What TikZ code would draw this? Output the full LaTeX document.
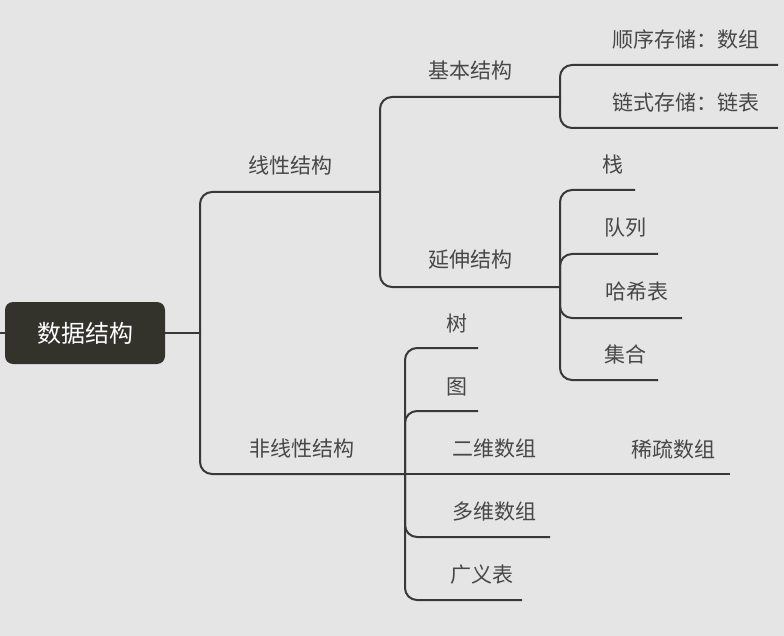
\documentclass[tikz,border=0pt]{standalone}
\usepackage{fontspec}
\newfontfamily\cjk{Noto Sans CJK SC}
\definecolor{rootc}{HTML}{33332C}
\begin{document}
\begin{tikzpicture}[x=1pt,y=-1pt,
  ln/.style={draw=black!78,line width=2pt,rounded corners=12pt},
  lbl/.style={font=\cjk\fontsize{21}{21}\selectfont,text=black!72,inner sep=0pt}]
\fill[black!10] (0,0) rectangle (784,636);
\useasboundingbox (0,0) rectangle (784,636);
\node[fill=rootc,rounded corners=8pt,minimum width=160pt,minimum height=62pt,text=white,font=\cjk\fontsize{24}{24}\selectfont] (root) at (85,333) {数据结构};
\coordinate (l0) at (0,333);
\draw[ln] (l0) -- (root.west);
\coordinate (j0) at (200,333);
\draw[ln] (root.east) -- (j0);
% level 1
\node[lbl] (lin) at (290,166) {线性结构};
\node[lbl] (nonlin) at (302,449) {非线性结构};
\coordinate (linE) at (380,192);
\coordinate (nonE) at (405,474);
\draw[ln] (j0) -- (200,192) -- (linE);
\draw[ln] (j0) -- (200,474) -- (nonE);
% linear children
\node[lbl] (basic) at (470,71) {基本结构};
\node[lbl] (ext) at (470,260) {延伸结构};
\coordinate (basicE) at (560,97);
\coordinate (extE) at (560,287);
\draw[ln] (linE) -- (380,97) -- (basicE);
\draw[ln] (linE) -- (380,287) -- (extE);
% basic children
\node[lbl] (seq) at (686,40) {顺序存储：数组};
\node[lbl] (lnk) at (686,103) {链式存储：链表};
\coordinate (seqE) at (778,65);
\coordinate (lnkE) at (778,128);
\draw[ln] (basicE) -- (560,65) -- (seqE);
\draw[ln] (basicE) -- (560,128) -- (lnkE);
% ext children
\node[lbl] (stack) at (613,165) {栈};
\node[lbl] (queue) at (625,228) {队列};
\node[lbl] (hash) at (637,292) {哈希表};
\node[lbl] (set) at (625,354) {集合};
\coordinate (stackE) at (635,190);
\coordinate (queueE) at (658,254);
\coordinate (hashE) at (682,318);
\coordinate (setE) at (658,380);
\draw[ln] (extE) -- (560,190) -- (stackE);
\draw[ln] (extE) -- (560,254) -- (queueE);
\draw[ln] (extE) -- (560,318) -- (hashE);
\draw[ln] (extE) -- (560,380) -- (setE);
% nonlinear children
\node[lbl] (tree) at (457,324) {树};
\node[lbl] (graph) at (457,387) {图};
\node[lbl] (arr2) at (494,449) {二维数组};
\node[lbl] (sparse) at (673,449) {稀疏数组};
\node[lbl] (arrn) at (494,512) {多维数组};
\node[lbl] (gen) at (482,575) {广义表};
\coordinate (treeE) at (478,348);
\coordinate (graphE) at (478,411);
\coordinate (arr2E) at (610,474);
\coordinate (sparseE) at (730,474);
\coordinate (arrnE) at (550,537);
\coordinate (genE) at (522,600);
\draw[ln] (nonE) -- (405,348) -- (treeE);
\draw[ln] (nonE) -- (405,411) -- (graphE);
\draw[ln] (nonE) -- (arr2E) -- (sparseE);
\draw[ln] (nonE) -- (405,537) -- (arrnE);
\draw[ln] (nonE) -- (405,600) -- (genE);
\end{tikzpicture}
\end{document}
